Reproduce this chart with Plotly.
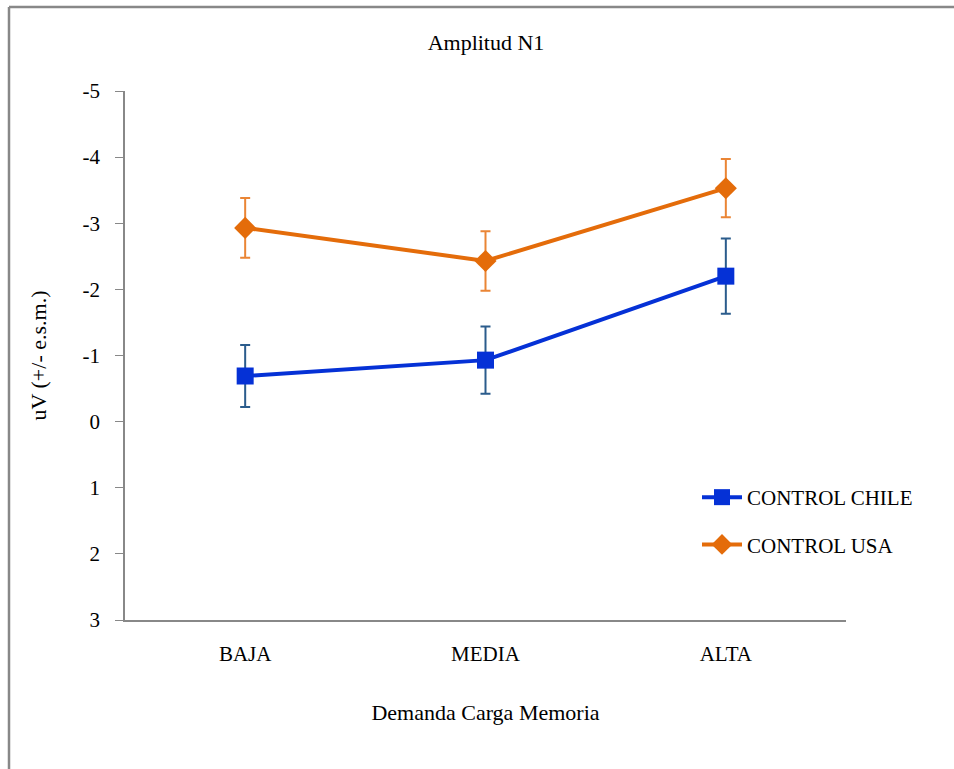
import plotly.graph_objects as go

categories = ["BAJA", "MEDIA", "ALTA"]
chile_vals = [-0.69, -0.93, -2.20]
chile_err = [0.47, 0.51, 0.57]
usa_vals = [-2.93, -2.43, -3.53]
usa_err = [0.45, 0.45, 0.44]
y_ticks = [-5, -4, -3, -2, -1, 0, 1, 2, 3]
y_ticktext = ["-5", "-4", "-3", "-2", "-1", "0", "1", "2", "3"]

W, H = 954, 769
ML, MR, MT, MB = 125, 108, 91, 149
FONT = "Liberation Serif"

fig = go.Figure()
fig.add_trace(go.Scatter(
    x=categories, y=chile_vals, name="CONTROL CHILE", mode="lines+markers",
    line=dict(color="#0531D6", width=4),
    marker=dict(symbol="square", size=17, color="#0531D6"),
    error_y=dict(type="data", array=chile_err, color="#2B5C8C", thickness=2, width=5),
    legendgroup="a",
))
fig.add_trace(go.Scatter(
    x=categories, y=usa_vals, name="CONTROL USA", mode="lines+markers",
    line=dict(color="#E46C0A", width=4),
    marker=dict(symbol="diamond", size=17, color="#E46C0A"),
    error_y=dict(type="data", array=usa_err, color="#EA8535", thickness=2, width=5),
    legendgroup="b",
))

pw = W - ML - MR
ph = H - MT - MB
def px_x(p):
    return (p - ML) / pw
def px_y(p):
    return (H - MB - p) / ph

fig.add_shape(type="line", xref="paper", yref="paper",
              x0=px_x(9), x1=px_x(W + 5), y0=px_y(7), y1=px_y(7),
              line=dict(color="#888888", width=2.5))
fig.add_shape(type="line", xref="paper", yref="paper",
              x0=px_x(9), x1=px_x(9), y0=px_y(7), y1=px_y(H + 5),
              line=dict(color="#888888", width=2.5))

fig.update_layout(
    width=W, height=H,
    margin=dict(l=ML, r=MR, t=MT, b=MB),
    paper_bgcolor="white", plot_bgcolor="white",
    font=dict(family=FONT, size=21, color="#000000"),
    title=dict(text="Amplitud N1", x=486 / W, xanchor="center",
               y=1 - 42 / H, yanchor="middle", font=dict(size=22)),
    xaxis=dict(
        type="category", range=[-0.5, 2.5],
        showgrid=False, zeroline=False,
        showline=True, linecolor="#888888", linewidth=1.5,
        ticks="", tickfont=dict(size=21), ticklabelstandoff=14,
        title=dict(text="Demanda Carga Memoria", font=dict(size=22), standoff=40),
    ),
    yaxis=dict(
        range=[3, -5], tickvals=y_ticks, ticktext=y_ticktext,
        showgrid=False, zeroline=False,
        showline=True, linecolor="#888888", linewidth=1.5,
        ticks="outside", ticklen=8, tickcolor="#888888", tickwidth=1,
        tickfont=dict(size=21), ticklabelstandoff=11,
        title=dict(text="uV (+/- e.s.m.)", font=dict(size=22), standoff=30),
    ),
    legend=dict(
        x=px_x(697), y=px_y(477), xanchor="left", yanchor="top",
        bgcolor="rgba(0,0,0,0)", tracegroupgap=17, itemwidth=40,
        traceorder="grouped", font=dict(size=21),
    ),
    showlegend=True,
)

fig.write_html("out.html", config={"displayModeBar": False},
               post_script="document.body.style.margin='0';")
